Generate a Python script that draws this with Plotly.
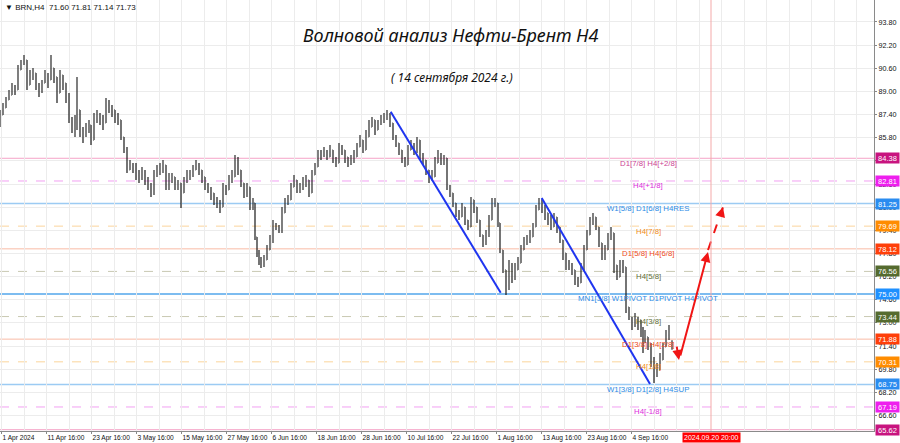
import plotly.graph_objects as go

# ---------------- data (x = H4 bar index) ----------------
bar_x = [0, 3, 6, 9, 12, 15, 18, 21, 24, 27, 30, 33, 36, 39, 42, 45, 48, 51, 54, 57,
         60, 63, 66, 69, 72, 75, 77, 80, 83, 86, 89, 91, 94, 97, 100, 103, 106, 109, 112, 115,
         118, 121, 124, 127, 130, 133, 136, 139, 142, 145, 148, 151, 154, 157, 160, 163, 166, 169,
         172, 175, 178, 181, 184, 187, 190, 193, 196, 199, 202, 205, 208, 211, 214, 217, 220, 223,
         226, 229, 232, 235, 238, 241, 244, 247, 250, 253, 255, 257, 259, 261, 264, 267, 270, 273,
         276, 279, 282, 285, 288, 291, 294, 297, 300, 303, 306, 309, 312, 315, 318, 321, 324, 327,
         330, 333, 336, 339,
         342, 345, 348, 351, 354, 357, 360, 363, 366, 369, 372, 375, 378, 381, 384, 387, 390, 393,
         396, 399, 402, 405, 408, 411, 414, 417, 420, 423, 426, 429, 432, 435, 438, 441, 444, 447,
         450, 453, 456, 459, 462, 465, 468, 471, 474, 477, 480, 483, 486, 489, 492, 495, 498, 500,
         503, 506, 509,
         512, 515, 518, 521, 524, 527, 530, 533, 536, 539, 542, 545, 548, 551, 554, 557, 560, 563,
         566, 569, 572, 575, 578, 581, 584, 587, 590, 593, 596, 599, 602, 605, 608, 611, 614, 617,
         620, 623, 626, 629, 632, 635, 638, 641, 643, 645, 648, 651, 654, 657, 660, 663, 666, 669, 672]

bar_close = [87.37, 87.86, 88.41, 88.75, 89.24, 89.10, 90.48, 90.96, 91.17, 89.44,
             90.13, 90.27, 89.44, 89.10, 89.58, 90.13, 89.79, 90.62, 90.00, 88.89,
             90.13, 89.58, 88.75, 87.03, 86.54, 86.68, 87.72, 86.13, 85.99, 86.54,
             86.68, 85.64, 87.23, 87.37, 87.03, 86.82, 88.20, 87.93, 87.72, 87.23,
             87.03, 85.85, 84.95, 83.57, 83.91, 83.78, 83.23, 83.09, 83.36, 82.88,
             82.53, 81.98, 83.23, 83.57, 83.78, 83.91, 82.39, 83.09,
             83.09, 82.53, 82.67, 81.98, 82.88, 83.09, 83.36, 83.57, 83.91, 83.57,
             83.09, 82.53, 82.19, 81.98, 81.50, 81.15, 81.01, 82.39, 82.19, 82.88,
             83.09, 84.26, 83.57, 82.67, 81.84, 82.39, 81.01, 81.29, 78.94, 77.83,
             77.35, 77.00, 77.35, 78.04, 78.73, 79.77, 79.63, 79.42, 80.60, 81.29,
             81.50, 82.39, 82.88, 82.19, 82.39, 82.67, 82.88, 81.98, 83.23, 83.78,
             84.74, 84.61, 84.74, 84.47, 84.95, 84.26, 84.05, 85.16,
             84.95, 84.47, 84.05, 84.26, 84.47, 85.16, 85.64, 84.95, 85.85, 86.54,
             87.03, 86.33, 86.82, 87.03, 87.23, 87.37, 86.82, 85.85, 85.43, 84.95,
             84.26, 83.91, 84.95, 85.30, 84.95, 85.64, 84.47, 84.26, 83.57, 82.88,
             83.09, 84.05, 84.61, 84.26, 84.40, 82.39, 81.98, 81.29, 80.60, 80.32,
             81.01, 80.11, 79.63, 81.50, 81.01, 80.11, 79.08, 78.53, 79.08, 80.11,
             81.29, 81.29, 79.91, 78.04, 76.66, 75.48, 77.00,
             76.17, 76.66, 77.14, 78.04, 78.53, 78.73, 78.94, 79.63, 80.81, 81.50,
             81.01, 80.60, 80.11, 79.63, 80.32, 79.63, 78.73, 77.83, 77.00, 76.87,
             76.66, 75.97, 75.76, 76.66, 78.04, 79.08, 79.91, 80.32, 79.63, 78.53,
             77.56, 78.04, 78.94, 79.22, 77.00, 76.17, 77.14, 76.87, 74.10, 73.41,
             72.86, 73.20, 72.86, 72.51, 71.82, 72.03, 71.47, 70.44, 69.54, 69.75,
             70.44, 71.34, 72.03, 72.30, 71.73]

bar_high = [87.72, 88.20, 88.61, 89.10, 89.58, 89.44, 90.83, 91.17, 91.52, 90.96,
            90.48, 90.62, 90.13, 89.58, 89.79, 90.48, 90.27, 91.52, 90.62, 89.79,
            90.48, 90.00, 89.58, 88.89, 87.23, 87.37, 90.00, 87.23, 86.54, 86.82,
            87.03, 86.68, 87.51, 87.72, 87.51, 87.37, 88.55, 88.41, 88.06, 87.72,
            87.51, 87.03, 85.85, 85.16, 84.26, 84.05, 84.05, 83.57, 83.78, 83.57,
            83.09, 82.67, 83.57, 83.91, 84.05, 84.26, 83.91, 83.36,
            83.36, 83.09, 82.88, 82.67, 83.09, 83.57, 83.57, 83.91, 84.26, 84.05,
            83.57, 83.09, 82.67, 82.39, 81.98, 81.70, 81.50, 82.67, 82.53, 83.23,
            83.57, 84.61, 84.47, 83.57, 82.67, 82.67, 82.39, 81.63, 81.29, 78.94,
            78.04, 77.56, 77.70, 78.39, 79.08, 80.11, 79.91, 79.77, 81.01, 81.63,
            81.84, 82.67, 83.23, 82.88, 82.67, 83.09, 83.23, 82.88, 83.57, 84.05,
            84.95, 84.95, 85.16, 84.95, 85.30, 84.95, 84.47, 85.43,
            85.30, 84.95, 84.47, 84.61, 84.95, 85.43, 85.99, 85.64, 86.33, 87.03,
            87.23, 87.03, 87.03, 87.37, 87.51, 87.72, 87.51, 86.82, 85.99, 85.43,
            84.95, 84.47, 85.30, 85.64, 85.43, 85.85, 85.43, 84.74, 84.26, 83.57,
            83.57, 84.47, 84.95, 84.74, 84.61, 84.40, 82.53, 81.84, 81.15, 80.81,
            81.29, 81.01, 80.11, 81.70, 81.50, 81.01, 80.11, 79.08, 79.42, 80.46,
            81.63, 81.63, 81.29, 79.91, 78.04, 76.66, 77.35,
            77.14, 77.14, 77.56, 78.39, 78.94, 79.08, 79.42, 79.91, 81.15, 81.63,
            81.50, 81.15, 80.60, 80.46, 80.60, 80.32, 79.42, 78.73, 77.83, 77.35,
            77.14, 76.66, 76.17, 77.14, 78.39, 79.42, 80.32, 80.60, 80.32, 79.63,
            78.53, 78.39, 79.22, 79.63, 79.08, 77.00, 77.35, 77.35, 76.87, 74.10,
            73.41, 73.69, 73.41, 73.20, 72.72, 72.51, 72.03, 71.61, 70.64, 70.23,
            70.92, 71.61, 72.51, 72.86, 71.81]

bar_low = [86.54, 87.51, 88.06, 88.41, 88.89, 88.75, 89.44, 90.48, 90.83, 89.10,
           89.58, 89.79, 89.10, 88.61, 88.89, 89.58, 89.24, 90.00, 89.58, 88.20,
           88.89, 89.10, 88.20, 86.82, 86.13, 85.85, 86.33, 85.85, 85.43, 85.85,
           86.13, 85.30, 85.64, 86.82, 86.68, 86.33, 87.03, 87.51, 87.23, 86.82,
           86.68, 85.64, 84.74, 83.36, 83.57, 83.36, 82.88, 82.67, 82.88, 82.53,
           82.19, 81.70, 81.84, 83.09, 83.23, 83.36, 82.19, 82.19,
           82.67, 82.19, 82.19, 80.94, 82.19, 82.67, 82.88, 83.09, 83.57, 83.23,
           82.67, 82.19, 81.98, 81.50, 81.15, 80.94, 80.60, 81.01, 81.84, 82.19,
           82.67, 83.09, 83.23, 82.39, 81.63, 81.70, 80.81, 80.81, 78.73, 77.56,
           77.00, 76.80, 76.87, 77.56, 78.04, 78.53, 79.42, 79.22, 79.22, 80.81,
           81.15, 81.50, 82.39, 81.98, 81.98, 82.19, 82.39, 81.70, 81.98, 83.23,
           83.78, 84.26, 84.47, 84.26, 84.47, 84.05, 83.78, 84.05,
           84.61, 84.05, 83.78, 83.91, 84.05, 84.61, 85.16, 84.74, 84.95, 85.99,
           86.54, 85.99, 86.33, 86.68, 86.82, 87.03, 86.54, 85.64, 85.16, 84.61,
           84.05, 83.78, 83.91, 84.95, 84.61, 84.74, 84.26, 83.91, 83.23, 82.67,
           82.88, 83.09, 84.05, 83.91, 83.91, 82.19, 81.70, 81.01, 80.32, 80.11,
           80.46, 79.77, 79.42, 79.63, 80.60, 79.91, 78.94, 78.25, 78.39, 78.94,
           80.11, 81.01, 79.63, 77.83, 76.45, 74.93, 75.28,
           75.76, 75.97, 76.66, 77.14, 78.04, 78.39, 78.53, 78.94, 79.63, 80.81,
           80.60, 80.11, 79.77, 79.42, 79.63, 79.22, 78.53, 77.35, 76.66, 76.66,
           76.31, 75.62, 75.48, 75.76, 76.66, 78.04, 79.08, 79.77, 79.42, 78.25,
           77.35, 77.35, 78.04, 78.73, 76.45, 75.97, 76.17, 76.45, 73.69, 73.20,
           72.51, 72.72, 72.51, 72.03, 70.92, 71.61, 71.13, 69.95, 68.85, 69.26,
           69.95, 70.92, 71.61, 71.82, 71.14]

first_open = 86.90
symbol_name = "BRN,H4"
last_quote = [71.60, 71.81, 71.14, 71.73]  # O H L C of the current bar

level_prices = [84.38, 82.81, 81.25, 79.69, 78.12, 76.56, 75.00, 73.44, 71.88, 70.31, 68.75, 67.19, 65.62]
level_names = ["D1[7/8] H4[+2/8]", "H4[+1/8]", "W1[5/8] D1[6/8] H4RES", "H4[7/8]",
               "D1[5/8] H4[6/8]", "H4[5/8]", "MN1[3/8] W1PIVOT D1PIVOT H4PIVOT", "H4[3/8]",
               "D1[3/8] H4[2/8]", "H4[1/8]", "W1[3/8] D1[2/8] H4SUP", "H4[-1/8]", ""]
level_kinds = ["pink", "magenta", "blue", "orange", "red", "olive", "pivot", "olive",
               "red", "orange", "blue", "magenta", "pink"]

price_ticks = [93.80, 92.20, 90.60, 89.00, 87.40, 85.80, 84.20, 82.60, 81.00, 79.40,
               77.80, 76.20, 74.60, 73.00, 71.40, 69.80, 68.20, 66.60]

time_tick_bars = [1.5, 46.5, 91.5, 136.5, 181.5, 226.5, 271.5, 316.5, 361.5, 406.5,
                  451.5, 496.5, 541.5, 586.5, 631.5]
time_tick_labels = ["1 Apr 2024", "11 Apr 16:00", "23 Apr 16:00", "3 May 16:00", "15 May 16:00",
                    "27 May 16:00", "6 Jun 16:00", "18 Jun 16:00", "28 Jun 16:00", "10 Jul 16:00",
                    "22 Jul 16:00", "1 Aug 16:00", "13 Aug 16:00", "23 Aug 16:00", "4 Sep 16:00"]

cursor_bar = 711
cursor_label = "2024.09.20 20:00"

wave1_x = [390.7, 500.7]
wave1_y = [87.60, 75.09]
wave2_x = [541.7, 650.0]
wave2_y = [81.63, 68.78]

fc_down_x = [676.5, 679.0]
fc_down_y = [71.47, 70.44]
fc_up_x = [680.0, 708.0]
fc_up_y = [70.64, 77.90]
fc_dash_x = [708.0, 723.0]
fc_dash_y = [78.04, 81.01]

title_text = "Волновой анализ Нефти-Брент Н4"
subtitle_text = "( 14 сентября 2024 г.)"

# ---------------- styles ----------------
kind_style = {
    "pink":    dict(line="#f5a3c7", dash="solid", box="#c8147f", text="#cc3f94", w=1),
    "magenta": dict(line="#f2a0f2", dash="dash",  box="#ee1fee", text="#dd2edd", w=1),
    "blue":    dict(line="#9ccbf3", dash="solid", box="#2a8cf0", text="#2b8be6", w=1.5),
    "orange":  dict(line="#fbd59c", dash="dash",  box="#ff8c00", text="#f08c18", w=1),
    "red":     dict(line="#f9bba6", dash="solid", box="#ff3f0a", text="#ee4a1c", w=1),
    "olive":   dict(line="#c9c9b2", dash="dash",  box="#556b2f", text="#5f6f38", w=1),
    "pivot":   dict(line="#7dbcf0", dash="solid", box="#1e90ff", text="#2b8be6", w=2),
}

bar_open = [first_open] + bar_close[:-1]
bar_open[-1] = last_quote[0]
bar_high = [max(h, o, c) for h, o, c in zip(bar_high, bar_open, bar_close)]
bar_low = [min(l, o, c) for l, o, c in zip(bar_low, bar_open, bar_close)]

FONT = "Liberation Sans"

fig = go.Figure()
fig.add_trace(go.Ohlc(
    x=bar_x, open=bar_open, high=bar_high, low=bar_low, close=bar_close,
    increasing=dict(line=dict(color="#2a2a2a", width=1.2)),
    decreasing=dict(line=dict(color="#1a1a1a", width=1.2)),
    tickwidth=0.3, hoverinfo="skip", showlegend=False,
))

shapes = []
annotations = []

# level lines
for price, name, kind in zip(level_prices, level_names, level_kinds):
    st = kind_style[kind]
    shapes.append(dict(type="line", xref="paper", x0=0, x1=1, yref="y", y0=price, y1=price,
                       line=dict(color=st["line"], width=st["w"], dash=st["dash"]), layer="below"))
    if name:
        annotations.append(dict(x=648, y=price, xref="x", yref="y", text=name, showarrow=False,
                                yshift=-5, font=dict(family=FONT, size=7.8, color=st["text"])))
    annotations.append(dict(x=1, y=price, xref="paper", yref="y", text=f"{price:.2f}",
                            showarrow=False, xanchor="left", xshift=1, width=23, height=10,
                            bgcolor=st["box"], borderpad=0,
                            font=dict(family=FONT, size=7.5, color="white")))

# cursor vertical line
shapes.append(dict(type="line", xref="x", x0=cursor_bar, x1=cursor_bar, yref="paper", y0=0, y1=1,
                   line=dict(color="#f4a9a9", width=1)))
annotations.append(dict(x=cursor_bar, y=0, xref="x", yref="paper", text=cursor_label,
                        showarrow=False, yanchor="top", yshift=-1, bgcolor="#ff0000", borderpad=1,
                        font=dict(family=FONT, size=7, color="white")))

# wave trendlines
for wx, wy in ((wave1_x, wave1_y), (wave2_x, wave2_y)):
    fig.add_trace(go.Scatter(x=wx, y=wy, mode="lines", line=dict(color="#1f35f0", width=2),
                             hoverinfo="skip", showlegend=False))

# forecast arrows
for ax_, ay_ in ((fc_down_x, fc_down_y), (fc_up_x, fc_up_y)):
    annotations.append(dict(x=ax_[1], y=ay_[1], ax=ax_[0], ay=ay_[0], xref="x", yref="y",
                            axref="x", ayref="y", text="", showarrow=True, arrowhead=2,
                            arrowsize=1, arrowwidth=2, arrowcolor="#f01515"))
fig.add_trace(go.Scatter(x=fc_dash_x, y=fc_dash_y, mode="lines",
                         line=dict(color="#f01515", width=2, dash="dash"),
                         hoverinfo="skip", showlegend=False))
annotations.append(dict(x=fc_dash_x[1], y=fc_dash_y[1], ax=fc_dash_x[1] - 1.5,
                        ay=fc_dash_y[1] - 0.35, xref="x", yref="y", axref="x", ayref="y",
                        text="", showarrow=True, arrowhead=2, arrowsize=1, arrowwidth=2,
                        arrowcolor="#f01515"))

# header and titles
annotations.append(dict(x=0, y=1, xref="paper", yref="paper", xanchor="left", yanchor="top",
                        xshift=3, yshift=-1, showarrow=False,
                        text="▼ " + symbol_name + "  " + " ".join(f"{v:.2f}" for v in last_quote),
                        font=dict(family=FONT, size=8, color="#111")))
annotations.append(dict(x=450, y=1, xref="x", yref="paper", yanchor="middle", yshift=-35,
                        text=title_text, showarrow=False,
                        font=dict(family="Noto Sans", size=18, color="#111", style="italic")))
annotations.append(dict(x=452, y=1, xref="x", yref="paper", yanchor="middle", yshift=-77,
                        text=subtitle_text, showarrow=False,
                        font=dict(family="Noto Sans", size=12, color="#111", style="italic")))

fig.update_layout(
    width=900, height=443,
    margin=dict(l=0, r=26, t=0, b=12, autoexpand=False),
    paper_bgcolor="white", plot_bgcolor="white",
    shapes=shapes, annotations=annotations,
    xaxis=dict(range=[0, 874], rangeslider=dict(visible=False), tickmode="array",
               tickvals=time_tick_bars, ticktext=time_tick_labels, tickangle=0,
               automargin=False,
               ticklabelposition="outside right", ticks="outside", ticklen=2, tickcolor="#888",
               tickfont=dict(family=FONT, size=6.6, color="#111"),
               showgrid=True, gridcolor="#ececec", gridwidth=1,
               minor=dict(tick0=1.5, dtick=22.5, showgrid=True, gridcolor="#ececec"),
               showline=True, linecolor="#8a8a8a", mirror=True, zeroline=False),
    yaxis=dict(range=[65.53, 95.32], side="right", tickmode="array", tickvals=price_ticks,
               tickformat=".2f", ticks="outside", ticklen=2, tickcolor="#888",
               automargin=False,
               tickfont=dict(family=FONT, size=7.2, color="#111"),
               showgrid=True, gridcolor="#ececec",
               showline=True, linecolor="#8a8a8a", mirror=True, zeroline=False),
)

fig.write_html("out.html", config={"displayModeBar": False},
               post_script="document.body.style.margin='0';document.body.style.padding='0';")
